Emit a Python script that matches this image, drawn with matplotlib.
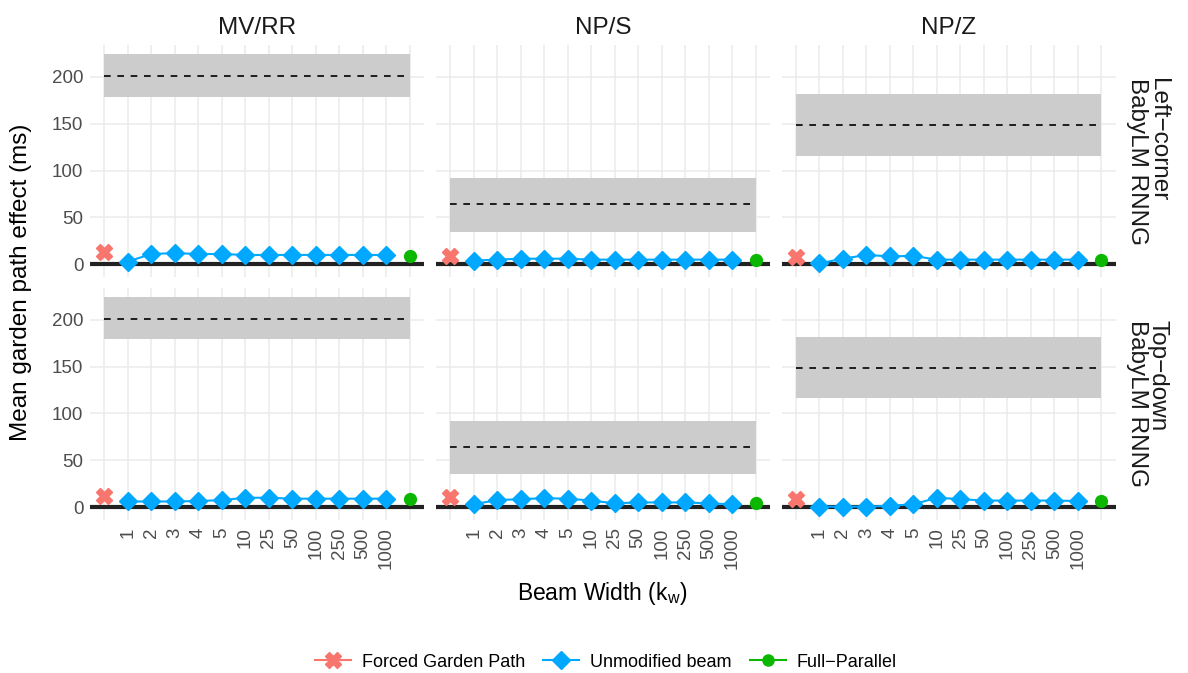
import numpy as np
import matplotlib.pyplot as plt
from matplotlib.lines import Line2D

plt.rcParams['font.family'] = ['Liberation Sans', 'DejaVu Sans']
plt.rcParams['mathtext.fontset'] = 'custom'
plt.rcParams['mathtext.rm'] = 'Liberation Sans'
plt.rcParams['mathtext.it'] = 'Liberation Sans'

widths = ['1', '2', '3', '4', '5', '10', '25', '50', '100', '250', '500', '1000']
constructions = ['MV/RR', 'NP/S', 'NP/Z']
parsers = ['Left\u2212corner\nBabyLM RNNG', 'Top\u2212down\nBabyLM RNNG']

# human garden path effect: mean and interval per construction
human_mean = [201, 64, 149]
human_lo = [179, 35, 116]
human_hi = [224, 92, 182]

# model values, rows = parsers, cols = constructions
forced = [[13, 9, 8],
          [12, 11, 9]]
full_parallel = [[9, 5, 5],
                 [8.5, 4, 6]]
beam_lc_mvrr = [3, 11, 12, 11, 11, 10, 10, 10, 10, 10, 10, 10]
beam_lc_nps = [4, 5, 6, 6, 6, 5, 5, 5, 5, 5, 5, 5]
beam_lc_npz = [1, 6, 10, 8.5, 9, 5, 5, 5, 5, 5, 5, 5]
beam_td_mvrr = [6, 6, 6, 6.5, 7.5, 10, 10, 9, 9, 9, 9, 9]
beam_td_nps = [3, 7.5, 8.5, 9.5, 9, 7, 4, 5, 5, 5, 4, 3]
beam_td_npz = [0.5, 0.5, 0.5, 1.5, 3, 10, 8.5, 7, 7, 7, 7, 6.5]
beam = [[beam_lc_mvrr, beam_lc_nps, beam_lc_npz],
        [beam_td_mvrr, beam_td_nps, beam_td_npz]]

c_forced = '#F8766D'
c_beam = '#00A9FF'
c_fp = '#0CB702'

fig, axes = plt.subplots(2, 3, figsize=(11.88, 6.73), dpi=100, sharex=True, sharey=True)
fig.subplots_adjust(left=0.076, right=0.939, top=0.933, bottom=0.227, wspace=0.036, hspace=0.045)

n = len(widths)
xb = np.arange(1, n + 1)
for r in range(2):
    for c in range(3):
        ax = axes[r, c]
        ax.set_facecolor('white')
        ax.fill_between([0, n + 1], human_lo[c], human_hi[c], color='#CCCCCC', lw=0, zorder=1)
        ax.plot([0, n + 1], [human_mean[c]] * 2, color='black', ls=(0, (4, 4)), lw=1.2, zorder=2)
        ax.axhline(0, color='#222222', lw=3, zorder=3)
        ax.plot(xb, beam[r][c], color=c_beam, lw=1.5, marker='D', ms=9, zorder=5)
        ax.plot([0], [forced[r][c]], color=c_forced, marker='X', ms=11, ls='none', zorder=5)
        ax.plot([n + 1], [full_parallel[r][c]], color=c_fp, marker='o', ms=8.5, ls='none', zorder=5)
        ax.set_xlim(-0.6, n + 1.6)
        ax.set_ylim(-14, 234)
        ax.set_yticks([0, 50, 100, 150, 200])
        ax.set_xticks(np.arange(0, n + 2))
        ax.set_xticklabels([''] + widths + [''], rotation=90)
        ax.grid(True, color='#EBEBEB', lw=1.1, zorder=0)
        ax.set_axisbelow(True)
        for s in ax.spines.values():
            s.set_visible(False)
        ax.tick_params(length=0, labelsize=13.5, colors='#4D4D4D', pad=5)
        if r == 0:
            ax.set_title(constructions[c], fontsize=17.5, color='#1A1A1A', pad=8)
        if c == 2:
            ax.text(1.03, 0.5, parsers[r], transform=ax.transAxes, rotation=-90,
                    ha='left', va='center', fontsize=17.5, color='#1A1A1A', linespacing=0.95)

fig.text(0.008, 0.58, 'Mean garden path effect (ms)', rotation=90, ha='left', va='center',
         fontsize=17.5)
fig.text(0.507, 0.118, 'Beam Width (k$_\\mathrm{w}$)', ha='center', va='center', fontsize=16.5)

handles = [
    Line2D([], [], color=c_forced, lw=1.5, marker='X', ms=11),
    Line2D([], [], color=c_beam, lw=1.5, marker='D', ms=9),
    Line2D([], [], color=c_fp, lw=1.5, marker='o', ms=8),
]
fig.legend(handles, ['Forced Garden Path', 'Unmodified beam', 'Full\u2212Parallel'],
           loc='center', bbox_to_anchor=(0.51, 0.016), ncol=3, frameon=False,
           fontsize=13, handlelength=2, columnspacing=1.0, handletextpad=0.6)

fig.savefig('out.png', dpi=100)
